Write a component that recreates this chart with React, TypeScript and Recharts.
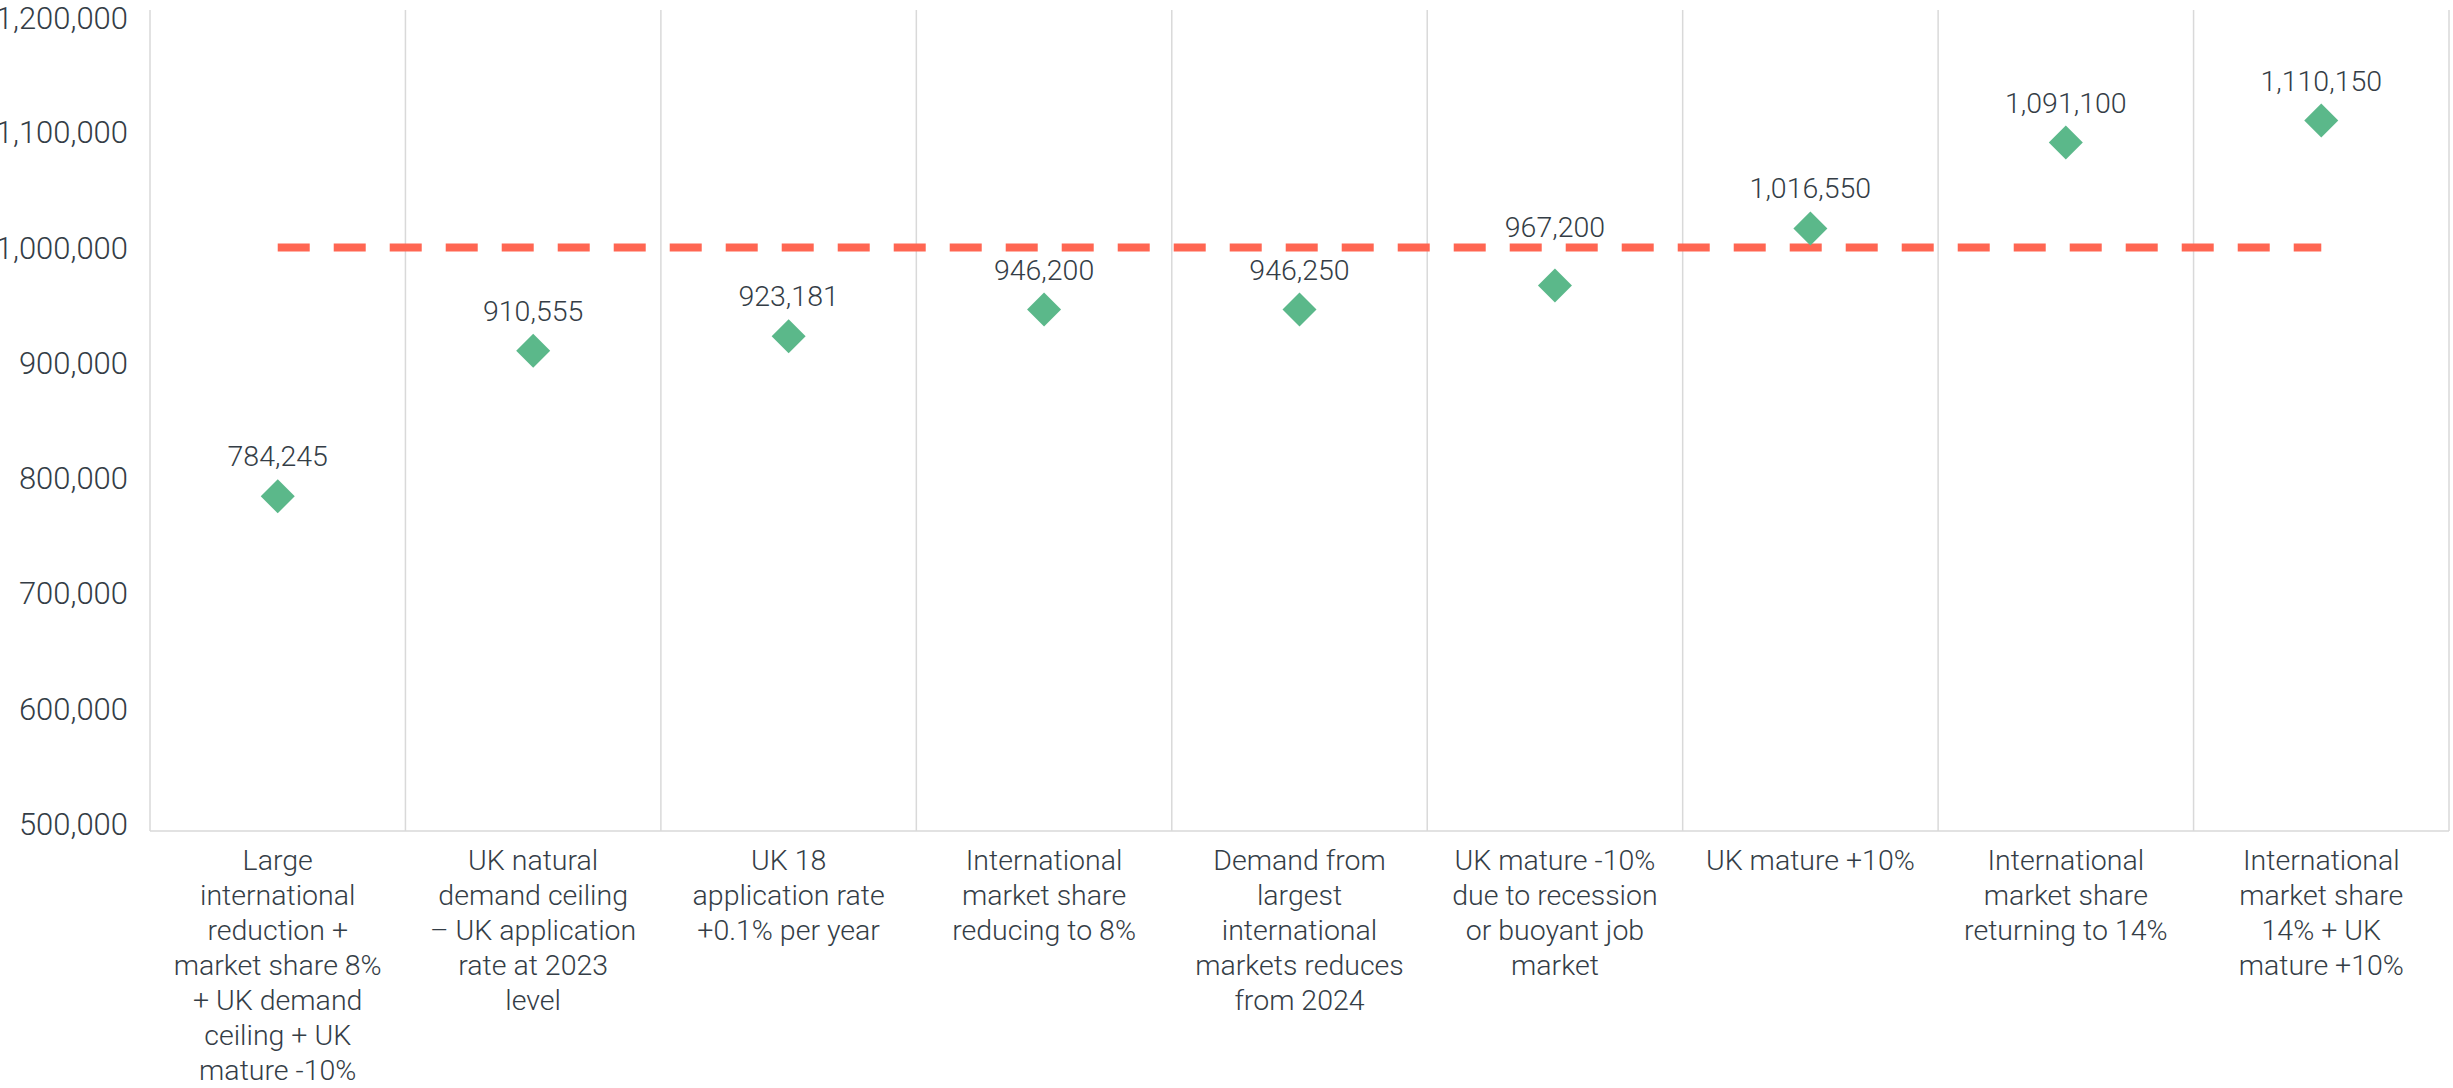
import React from "react";
import { ComposedChart, Line, Scatter, XAxis, YAxis, CartesianGrid } from "recharts";

const categories = [
  "Large\ninternational\nreduction +\nmarket share 8%\n+ UK demand\nceiling + UK\nmature -10%",
  "UK natural\ndemand ceiling\n– UK application\nrate at 2023\nlevel",
  "UK 18\napplication rate\n+0.1% per year",
  "International\nmarket share\nreducing to 8%",
  "Demand from\nlargest\ninternational\nmarkets reduces\nfrom 2024",
  "UK mature -10%\ndue to recession\nor buoyant job\nmarket",
  "UK mature +10%",
  "International\nmarket share\nreturning to 14%",
  "International\nmarket share\n14% + UK\nmature +10%",
];
const demand = [784245, 910555, 923181, 946200, 946250, 967200, 1016550, 1091100, 1110150];
const threshold = 1000000;
const yTicks = [500000, 600000, 700000, 800000, 900000, 1000000, 1100000, 1200000];

const data = categories.map((name, i) => ({ name, value: demand[i], target: threshold }));

const TEXT = "#343d46";
const FONT = "Roboto, 'Noto Sans', sans-serif";
const fmt = (v: number) => v.toLocaleString("en-US");

// vertical lines on the category boundaries (not the centres)
const boundaryLines = ({ offset }: any) =>
  Array.from({ length: categories.length + 1 }, (_, i) => offset.left + (offset.width * i) / categories.length);

const CategoryTick = (props: any) => {
  const { x, y, payload } = props;
  const lines = String(payload.value).split("\n");
  return (
    <text x={x} y={y} textAnchor="middle" fill={TEXT} fontSize={28.5} fontFamily={FONT} fontWeight={300}>
      {lines.map((line, i) => (
        <tspan key={i} x={x} dy={i === 0 ? 39 : 35}>
          {line}
        </tspan>
      ))}
    </text>
  );
};

// diamond marker with its value written above it
const DiamondPoint = (props: any) => {
  const { cx, cy, payload } = props;
  const r = 17;
  const gap = threshold - payload.value;
  // lift the label clear of the dashed line when the point sits just under it
  const off = gap > 0 && gap < 50000 ? 58 : 40;
  return (
    <g>
      <polygon
        points={`${cx},${cy - r} ${cx + r},${cy} ${cx},${cy + r} ${cx - r},${cy}`}
        fill="#5bb88a"
      />
      <text
        x={cx}
        y={cy - off + 10}
        textAnchor="middle"
        fill={TEXT}
        fontSize={28.5}
        fontFamily={FONT}
        fontWeight={300}
      >
        {fmt(payload.value)}
      </text>
    </g>
  );
};

export default function App() {
  return (
    <div style={{ position: "absolute", left: 0, top: 0 }}>
      <ComposedChart width={2453} height={1088} data={data} margin={{ top: 10, right: 4, bottom: 7, left: 0 }}>
        <CartesianGrid
          horizontal={false}
          verticalCoordinatesGenerator={boundaryLines}
          stroke="#d9d9d9"
          strokeWidth={1.5}
        />
        <XAxis
          dataKey="name"
          type="category"
          scale="band"
          interval={0}
          height={250}
          tickSize={0}
          tickMargin={0}
          tickLine={false}
          axisLine={{ stroke: "#d9d9d9", strokeWidth: 1.5 }}
          tick={<CategoryTick />}
        />
        <YAxis
          width={150}
          domain={[500000, 1200000]}
          ticks={yTicks}
          padding={{ top: 7, bottom: 7 }}
          axisLine={false}
          tickLine={false}
          tickSize={0}
          tickMargin={22}
          tickFormatter={fmt}
          tick={{ fill: TEXT, fontSize: 31, fontFamily: FONT, fontWeight: 300 }}
        />
        <Line
          dataKey="target"
          stroke="#ff6652"
          strokeWidth={8}
          strokeDasharray="32 24"
          dot={false}
          activeDot={false}
          isAnimationActive={false}
        />
        <Scatter dataKey="value" shape={<DiamondPoint />} isAnimationActive={false} />
      </ComposedChart>
    </div>
  );
}
